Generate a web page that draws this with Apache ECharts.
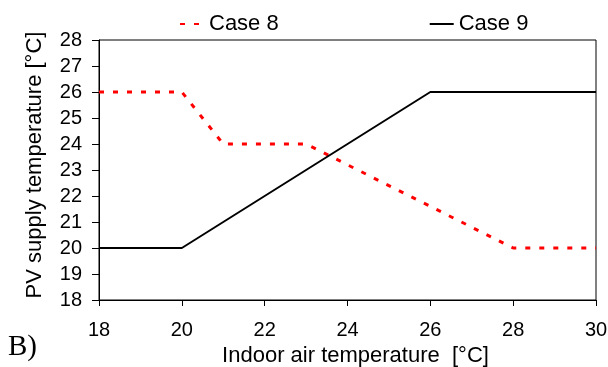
<!DOCTYPE html>
<html>
<head>
<meta charset="utf-8">
<script src="https://cdn.jsdelivr.net/npm/echarts@6/dist/echarts.min.js"></script>
<style>
  html, body { margin: 0; padding: 0; background: #fff; }
  #chart { width: 608px; height: 367px; }
</style>
</head>
<body>
<div id="chart"></div>
<script>
// indoor air temperature [°C] -> PV supply temperature [°C]
const case8X = [18, 20, 21, 23, 28, 30];
const case8Y = [26, 26, 24, 24, 20, 20];
const case9X = [18, 20, 26, 30];
const case9Y = [20, 20, 26, 26];

const seriesNames = ['Case 8', 'Case 9'];
const panelLabel = 'B)';

const font = 'Liberation Sans, Arial, sans-serif';
const chart = echarts.init(document.getElementById('chart'));

const option = {
  backgroundColor: '#fff',
  animation: false,
  textStyle: { fontFamily: font },
  legend: {
    top: 8,
    left: 174,
    itemGap: 150,
    itemWidth: 24,
    itemHeight: 14,
    itemStyle: { opacity: 0 },
    textStyle: { fontSize: 22, color: '#000', fontFamily: font },
    data: seriesNames
  },
  grid: {
    left: 99, right: 12, top: 40, bottom: 67,
    outerBoundsMode: 'none', containLabel: false,
    show: true, borderColor: '#000', borderWidth: 1
  },
  graphic: [{
    type: 'text', left: 8, top: 333,
    style: { text: panelLabel, fontSize: 29, fontFamily: 'Liberation Serif, Times New Roman, serif', fill: '#000' }
  }],
  xAxis: {
    type: 'value', min: 18, max: 30, interval: 2,
    name: 'Indoor air temperature  [°C]',
    nameLocation: 'middle', nameGap: 44,
    nameTextStyle: { fontSize: 22, color: '#000', fontFamily: font, padding: [0, 0, 0, 16] },
    axisLine: { lineStyle: { color: '#000' } },
    axisTick: { show: true, length: 6, lineStyle: { color: '#000' } },
    axisLabel: { fontSize: 20, color: '#000', margin: 20, fontFamily: font },
    splitLine: { show: false }
  },
  yAxis: {
    type: 'value', min: 18, max: 28, interval: 1,
    name: 'PV supply temperature [°C]',
    nameLocation: 'middle', nameGap: 53,
    nameTextStyle: { fontSize: 22, color: '#000', fontFamily: font, padding: [0, 0, 0, 10] },
    axisLine: { show: true, lineStyle: { color: '#000' } },
    axisTick: { show: true, length: 7, lineStyle: { color: '#000' } },
    axisLabel: { fontSize: 20, color: '#000', margin: 17, fontFamily: font },
    splitLine: { show: false }
  },
  series: [
    {
      name: seriesNames[0], type: 'line', symbol: 'none',
      data: case8X.map((x, i) => [x, case8Y[i]]),
      lineStyle: { color: '#ff0000', width: 3, type: [5, 9] },
      itemStyle: { color: '#ff0000' }
    },
    {
      name: seriesNames[1], type: 'line', symbol: 'none',
      data: case9X.map((x, i) => [x, case9Y[i]]),
      lineStyle: { color: '#000', width: 2 },
      itemStyle: { color: '#000' }
    }
  ]
};

chart.setOption(option);
</script>
</body>
</html>
